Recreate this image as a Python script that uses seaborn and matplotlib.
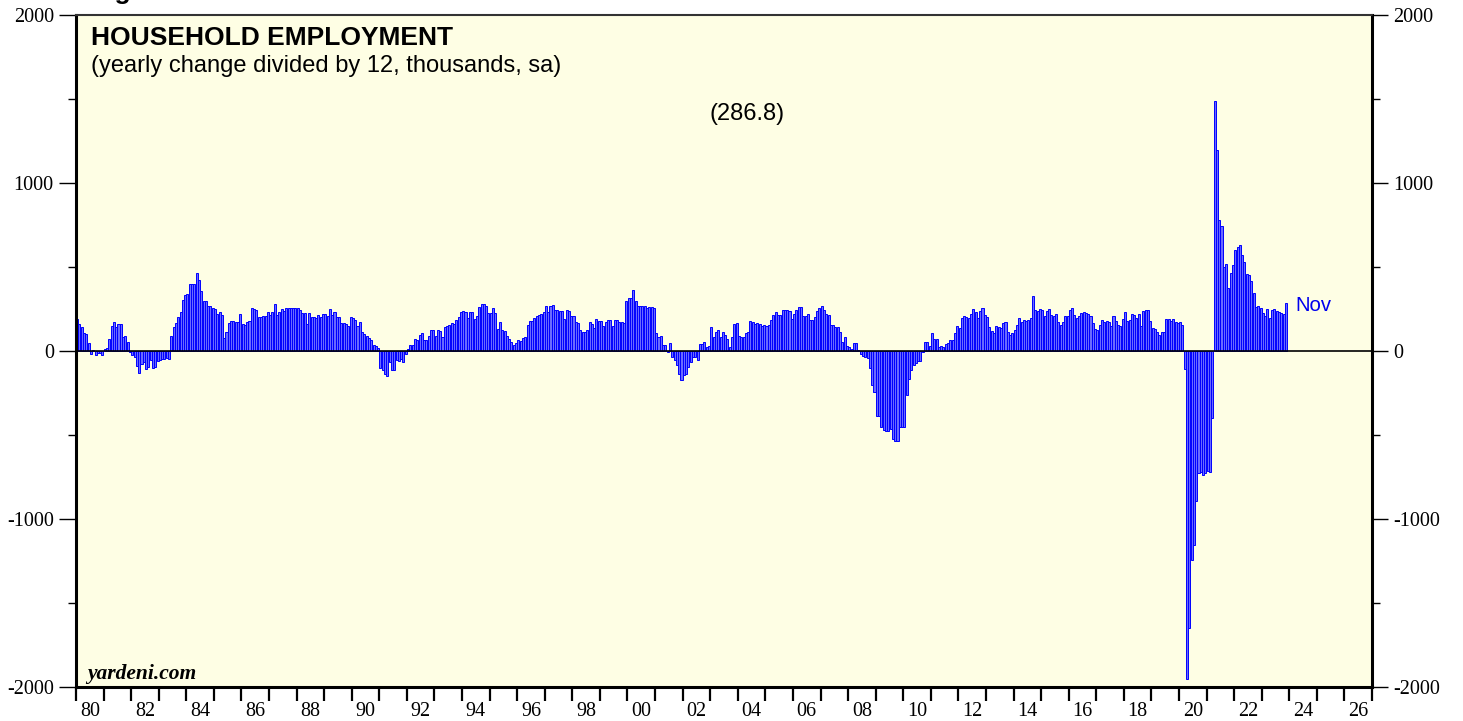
import numpy as np
import pandas as pd
import seaborn as sns
import matplotlib.pyplot as plt
from matplotlib.ticker import MultipleLocator

# Household employment, yearly change divided by 12 (thousands, sa)
# monthly values Jan..Dec
y1980 = [190, 160, 140, 105, 100, 50, -20, 5, -25, -10, -10, -25]
y1981 = [10, 15, 70, 150, 175, 140, 160, 160, 85, 90, 55, -5]
y1982 = [-25, -35, -90, -130, -80, -65, -105, -95, -55, -100, -95, -60]
y1983 = [-55, -50, -50, -40, -45, 90, 140, 165, 200, 235, 305, 335]
y1984 = [340, 400, 400, 400, 465, 420, 355, 295, 300, 270, 270, 255]
y1985 = [250, 220, 235, 215, 75, 115, 165, 180, 180, 170, 170, 220]
y1986 = [160, 155, 175, 180, 255, 250, 245, 200, 200, 210, 210, 230]
y1987 = [215, 235, 280, 215, 235, 250, 240, 255, 255, 255, 255, 255]
y1988 = [254, 244, 224, 224, 160, 224, 200, 204, 194, 214, 200, 220]
y1989 = [220, 208, 248, 214, 234, 204, 200, 164, 164, 158, 148, 200]
y1990 = [194, 184, 150, 170, 114, 100, 88, 80, 64, 34, 30, 20]
y1991 = [-100, -112, -136, -146, -66, -112, -116, -56, -62, -50, -66, -20]
y1992 = [10, 34, 34, 74, 64, 94, 108, 64, 68, 88, 124, 124]
y1993 = [88, 124, 118, 84, 144, 148, 154, 168, 160, 184, 200, 234]
y1994 = [240, 234, 194, 234, 234, 188, 208, 260, 278, 280, 268, 228]
y1995 = [228, 254, 224, 130, 174, 124, 120, 90, 70, 54, 34, 48]
y1996 = [64, 60, 76, 86, 156, 176, 180, 196, 206, 216, 220, 232]
y1997 = [266, 232, 266, 272, 242, 246, 236, 236, 190, 242, 236, 210]
y1998 = [210, 170, 166, 126, 116, 116, 126, 170, 162, 136, 190, 176]
y1999 = [176, 146, 170, 182, 182, 146, 182, 186, 170, 170, 166, 296]
y2000 = [316, 316, 366, 296, 266, 266, 270, 266, 256, 262, 262, 256]
y2001 = [106, 86, 92, 36, 36, -4, 46, -34, -54, -84, -134, -174]
y2002 = [-144, -134, -98, -64, -38, -38, -54, 40, 40, 52, 26, 32]
y2003 = [142, 86, 116, 126, 86, 116, 96, 70, 26, 82, 162, 166]
y2004 = [90, 86, 86, 110, 116, 176, 172, 160, 165, 162, 150, 156]
y2005 = [146, 156, 186, 216, 230, 216, 212, 242, 242, 242, 236, 192]
y2006 = [222, 246, 260, 260, 210, 206, 220, 186, 186, 202, 236, 256]
y2007 = [270, 246, 220, 216, 156, 152, 142, 142, 116, 52, 86, 30]
y2008 = [22, 10, 46, 46, 5, -20, -28, -34, -44, -100, -200, -244]
y2009 = [-384, -384, -454, -470, -478, -478, -464, -524, -534, -534, -454, -454]
y2010 = [-454, -264, -164, -114, -84, -70, -60, -60, -8, 52, 56, 32]
y2011 = [110, 70, 70, 26, 32, 22, 40, 46, 66, 66, 106, 150]
y2012 = [136, 196, 206, 202, 196, 220, 252, 232, 196, 240, 256, 212]
y2013 = [202, 142, 122, 106, 146, 140, 136, 166, 170, 116, 96, 106]
y2014 = [126, 156, 196, 170, 186, 176, 186, 196, 326, 242, 236, 250]
y2015 = [242, 210, 236, 250, 216, 210, 220, 170, 156, 170, 210, 210]
y2016 = [242, 256, 216, 196, 210, 226, 230, 226, 220, 210, 166, 130]
y2017 = [126, 156, 182, 170, 176, 170, 146, 206, 176, 156, 150, 190]
y2018 = [230, 176, 186, 220, 216, 196, 220, 146, 236, 242, 242, 176]
y2019 = [136, 132, 116, 96, 116, 116, 190, 190, 176, 190, 175, 165]
y2020 = [170, 155, -110, -1954, -1647, -1244, -1153, -895, -724, -720, -736, -724]
y2021 = [-713, -720, -399, 1490, 1194, 779, 745, 501, 517, 376, 467, 510]
y2022 = [601, 620, 631, 569, 528, 456, 453, 415, 346, 260, 267, 255]
y2023 = [226, 210, 251, 198, 244, 248, 239, 232, 226, 221, 286.8]

year_labels = ["80", "82", "84", "86", "88", "90", "92", "94", "96", "98", "00", "02", "04",
               "06", "08", "10", "12", "14", "16", "18", "20", "22", "24", "26"]
y_ticks = [-2000, -1000, 0, 1000, 2000]

monthly = [y1980, y1981, y1982, y1983, y1984, y1985, y1986, y1987, y1988, y1989,
           y1990, y1991, y1992, y1993, y1994, y1995, y1996, y1997, y1998, y1999,
           y2000, y2001, y2002, y2003, y2004, y2005, y2006, y2007, y2008, y2009,
           y2010, y2011, y2012, y2013, y2014, y2015, y2016, y2017, y2018, y2019,
           y2020, y2021, y2022, y2023]
vals = [v for yr in monthly for v in yr]
df = pd.DataFrame({"month": np.arange(len(vals)), "change": vals})

sns.set_style("ticks")
plt.rcParams["font.family"] = ["Liberation Sans", "DejaVu Sans"]
plt.rcParams["text.color"] = "black"
plt.rcParams["xtick.color"] = "black"
plt.rcParams["ytick.color"] = "black"
serif = ["Liberation Serif", "DejaVu Serif"]

fig = plt.figure(figsize=(14.63, 7.21), dpi=100)
ax = fig.add_axes([76 / 1463, 34 / 721, 1296 / 1463, 672 / 721])
ax.set_facecolor("#fefee4")

sns.barplot(data=df, x="month", y="change", color="#6a6aff", saturation=1,
            edgecolor="#0000ff", linewidth=0.7, width=0.88, errorbar=None, ax=ax)
ax.axhline(0, color="black", lw=1.2, zorder=5)

# x axis: a tick at each year boundary, even years labelled mid-year
n_years = 47
ax.set_xlim(-0.5, n_years * 12 - 0.5)
ax.set_xticks([12 * k - 0.5 for k in range(n_years + 1)])
ax.set_xticklabels([])
ax.set_xticks([12 * k + 5.5 for k in range(0, n_years, 2)], minor=True)
ax.set_xticklabels(year_labels, minor=True, family=serif, fontsize=14.5)
ax.tick_params(axis="x", which="major", length=10, width=1.6, direction="out")
ax.tick_params(axis="x", which="minor", length=0, pad=11)
ax.set_xlabel("")
ax.set_ylabel("")

# y axis on both sides
ax.set_ylim(-2000, 2000)
ax.set_yticks(y_ticks)
ax.set_yticklabels([str(t) for t in y_ticks], family=serif, fontsize=14.5)
ax.yaxis.set_minor_locator(MultipleLocator(500))
ax.tick_params(axis="y", which="major", length=12.5, width=1.0, pad=3.5)
ax.tick_params(axis="y", which="minor", length=6, width=1.0)

ax2 = ax.twinx()
ax2.set_ylim(-2000, 2000)
ax2.set_yticks(y_ticks)
ax2.set_yticklabels([str(t) for t in y_ticks], family=serif, fontsize=14.5)
ax2.yaxis.set_minor_locator(MultipleLocator(500))
ax2.tick_params(axis="y", which="major", length=11.5, width=1.0, pad=4)
ax2.tick_params(axis="y", which="minor", length=6, width=1.0)
for s in ax2.spines.values():
    s.set_visible(False)

for side in ["left", "right", "bottom"]:
    ax.spines[side].set_linewidth(2.2)
    ax.spines[side].set_color("black")
ax.spines["top"].set_linewidth(1.5)
ax.spines["top"].set_color("#333333")

# labels
ax.text(0.0116, 0.9554, "HOUSEHOLD EMPLOYMENT", transform=ax.transAxes,
        fontsize=19, fontweight="bold", va="baseline", ha="left")
ax.text(0.0116, 0.9152, "(yearly change divided by 12, thousands, sa)", transform=ax.transAxes,
        fontsize=17, va="baseline", ha="left")
ax.text(0.5177, 0.8438, "(286.8)", transform=ax.transAxes,
        fontsize=17, va="baseline", ha="center")
ax.text(len(vals) + 3, vals[-1] - 47, "Nov", color="#0000ee", fontsize=14.6,
        va="baseline", ha="left")
ax.text(0.0085, 0.0119, "yardeni.com", transform=ax.transAxes, family=serif,
        fontsize=15.5, fontweight="bold", fontstyle="italic", va="baseline", ha="left")
fig.text(91 / 1463, 1 + 1.4 / 721, "Figure 1.", fontsize=19, fontweight="bold",
         va="baseline", ha="left")

fig.savefig("out.png", dpi=100)
